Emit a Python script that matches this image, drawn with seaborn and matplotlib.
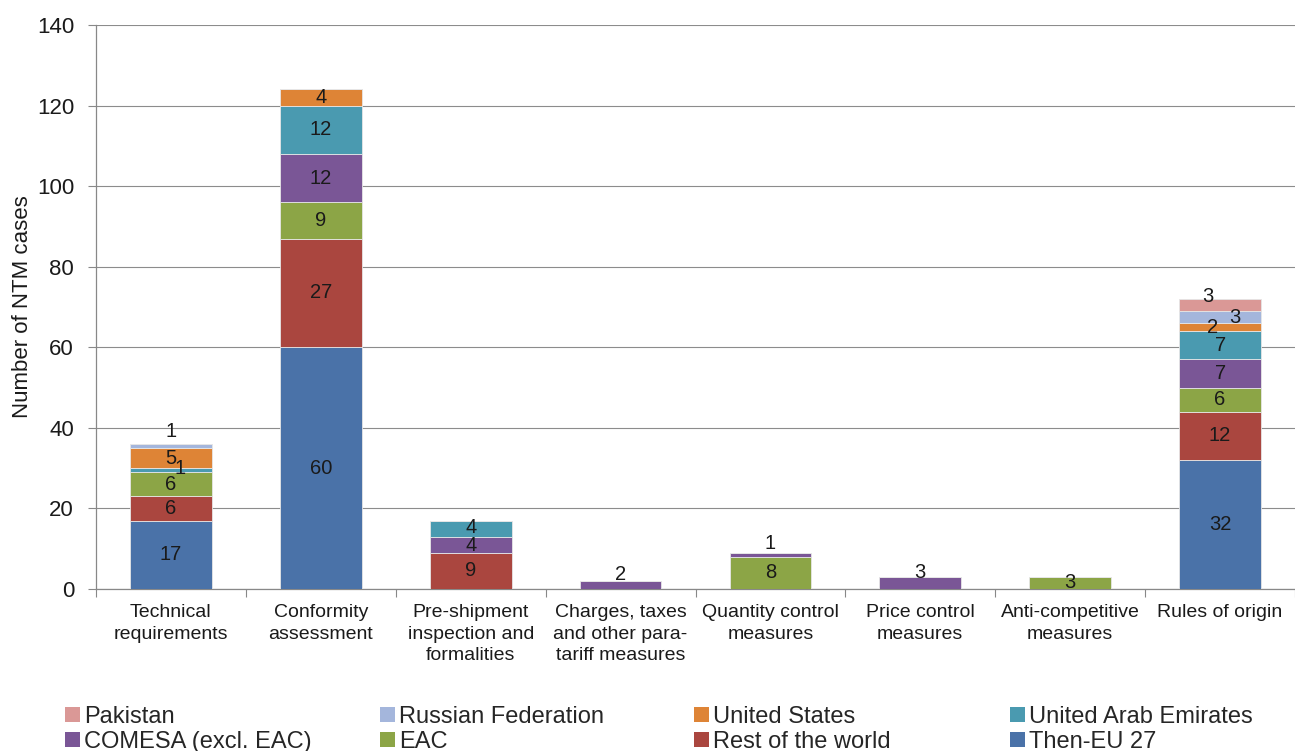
import numpy as np
import matplotlib
matplotlib.use("Agg")
import matplotlib.pyplot as plt
import seaborn as sns
from matplotlib.patches import Patch
from matplotlib.ticker import FixedLocator, NullFormatter

categories = [
    "Technical\nrequirements",
    "Conformity\nassessment",
    "Pre-shipment\ninspection and\nformalities",
    "Charges, taxes\nand other para-\ntariff measures",
    "Quantity control\nmeasures",
    "Price control\nmeasures",
    "Anti-competitive\nmeasures",
    "Rules of origin",
]

# Stacking order from the bottom up
then_eu27 = [17, 60, 0, 0, 0, 0, 0, 32]
rest_of_world = [6, 27, 9, 0, 0, 0, 0, 12]
eac = [6, 9, 0, 0, 8, 0, 3, 6]
comesa = [0, 12, 4, 2, 1, 3, 0, 7]
uae = [1, 12, 4, 0, 0, 0, 0, 7]
united_states = [5, 4, 0, 0, 0, 0, 0, 2]
russia = [1, 0, 0, 0, 0, 0, 0, 3]
pakistan = [0, 0, 0, 0, 0, 0, 0, 3]

series_names = ["Then-EU 27", "Rest of the world", "EAC", "COMESA (excl. EAC)",
                "United Arab Emirates", "United States", "Russian Federation", "Pakistan"]
series_values = [then_eu27, rest_of_world, eac, comesa, uae, united_states, russia, pakistan]
series_colors = ["#4A72A8", "#AA463F", "#8CA546", "#7A5696",
                 "#4A9AB0", "#DE8436", "#A4B6DC", "#DA9896"]

# Label nudges (pixels) for crowded thin segments: (category index, series) -> (dx, dy)
label_nudge = {
    (0, "Russian Federation"): (0, 14),
    (0, "United Arab Emirates"): (9, 2),
    (2, "United Arab Emirates"): (0, 1),
    (2, "COMESA (excl. EAC)"): (0, -1),
    (3, "COMESA (excl. EAC)"): (0, 10),
    (4, "COMESA (excl. EAC)"): (0, 11),
    (5, "COMESA (excl. EAC)"): (0, 10),
    (7, "Pakistan"): (-12, 8),
    (7, "Russian Federation"): (15, 0),
    (7, "United States"): (-7, 0),
}

sns.set_theme(style="white")
plt.rcParams["font.family"] = ["Liberation Sans", "DejaVu Sans"]

W, H = 1295, 751
fig = plt.figure(figsize=(W / 100, H / 100), dpi=100)
ax = fig.add_axes([96 / W, 1 - 589 / H, 1 - 96 / W, (589 - 25) / H])

bottom = np.zeros(len(categories))
handles = {}
for name, vals, col in zip(series_names, series_values, series_colors):
    vals = np.array(vals, dtype=float)
    sns.barplot(x=categories, y=vals, bottom=bottom, color=col, width=0.545,
                edgecolor="#e6e6e6", linewidth=0.6, ax=ax, saturation=1, zorder=3)
    for i, v in enumerate(vals):
        if v > 0:
            dx, dy = label_nudge.get((i, name), (0, 0))
            ax.annotate(f"{int(v)}", xy=(i, bottom[i] + v / 2),
                        xytext=(dx * 0.72, dy * 0.72), textcoords="offset points",
                        ha="center", va="center", fontsize=14.5, color="#1a1a1a", zorder=5)
    handles[name] = Patch(facecolor=col, edgecolor="none")
    bottom += vals

ax.set_ylim(0, 140)
ax.set_xlim(-0.5, len(categories) - 0.5)
ax.set_yticks(range(0, 141, 20))
ax.tick_params(axis="y", labelsize=16, color="#888888", labelcolor="#1a1a1a",
               length=5.8, width=0.8, direction="out", left=True, pad=10)
ax.grid(axis="y", color="#8c8c8c", linewidth=0.8, zorder=0)
ax.set_axisbelow(True)

ax.tick_params(axis="x", which="major", length=0, labelsize=14, pad=11, labelcolor="#1a1a1a")
for lbl in ax.get_xticklabels():
    lbl.set_linespacing(1.33)
ax.xaxis.set_minor_locator(FixedLocator(np.arange(-0.5, len(categories), 1.0)))
ax.xaxis.set_minor_formatter(NullFormatter())
ax.tick_params(axis="x", which="minor", bottom=True, length=6, width=0.8, color="#888888",
               direction="out")

for side in ["top", "right"]:
    ax.spines[side].set_visible(False)
for side in ["left", "bottom"]:
    ax.spines[side].set_color("#888888")
    ax.spines[side].set_linewidth(0.9)

ax.set_ylabel("Number of NTM cases", fontsize=16, color="#1a1a1a", labelpad=2.5)
ax.set_xlabel("")

# Legend: two rows by four evenly spaced columns
legend_rows = [["Pakistan", "Russian Federation", "United States", "United Arab Emirates"],
               ["COMESA (excl. EAC)", "EAC", "Rest of the world", "Then-EU 27"]]
col_left_px = [65, 380, 694, 1010]
for c, x_px in enumerate(col_left_px):
    names = [legend_rows[0][c], legend_rows[1][c]]
    fig.legend([handles[n] for n in names], names, loc="upper left",
               bbox_to_anchor=(x_px / W, 1 - 706 / H), frameon=False, fontsize=17,
               handlelength=0.62, handleheight=0.62, handletextpad=0.2,
               labelspacing=0.12, borderpad=0, borderaxespad=0)

fig.savefig("out.png", dpi=100)
